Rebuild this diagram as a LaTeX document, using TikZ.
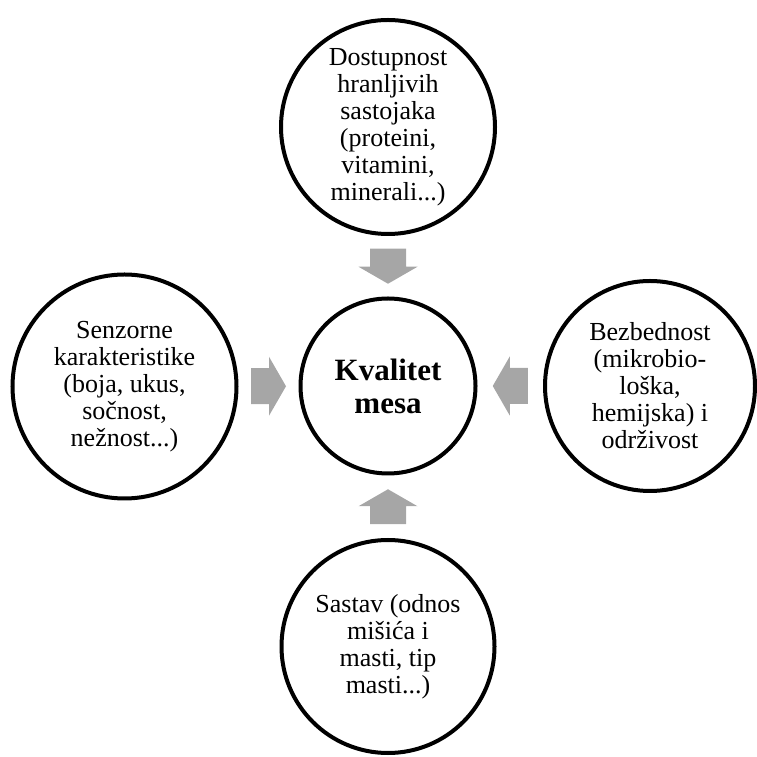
\documentclass[tikz,border=0pt]{standalone}
\usepackage{fontspec}
\setmainfont{Liberation Serif}
\usetikzlibrary{calc}
\definecolor{arrowgray}{HTML}{A6A6A6}
\tikzset{
  bubble/.style={circle, draw=black, line width=4pt, inner sep=0pt, align=center,
    font=\fontsize{26}{27}\selectfont},
  centerbubble/.style={bubble, font=\bfseries\fontsize{31}{33}\selectfont},
  blockarrow/.pic={
    \fill[arrowgray] (-17.5,-18) -- (0.5,-18) -- (0.5,-29.5) -- (17.5,0)
      -- (0.5,29.5) -- (0.5,18) -- (-17.5,18) -- cycle;
  }
}
\begin{document}
\begin{tikzpicture}[x=1pt,y=1pt]
\useasboundingbox (0,0) rectangle (757,757);
\node[centerbubble, minimum size=175pt] (center) at (388,371) {Kvalitet\\mesa};
\node[bubble, minimum size=214pt] (top) at (388,630)
  {Dostupnost\\hranljivih\\sastojaka\\(proteini,\\vitamini,\\minerali...)};
\node[bubble, minimum size=224pt] (left) at (124.5,370.5)
  {Senzorne\\karakteristike\\(boja, ukus,\\sočnost,\\nežnost...)};
\node[bubble, minimum size=210pt] (right) at (650,371)
  {Bezbednost\\(mikrobio-\\loška,\\hemijska) i\\održivost};
\node[bubble, minimum size=213pt] (bottom) at (388,110.5)
  {Sastav (odnos\\mišića i\\masti, tip\\masti...)};
\pic[rotate=-90] at ($(top.south)!0.5!(center.north)$) {blockarrow};
\pic[rotate=0] at ($(left.east)!0.5!(center.west)$) {blockarrow};
\pic[rotate=180] at ($(right.west)!0.5!(center.east)$) {blockarrow};
\pic[rotate=90] at ($(bottom.north)!0.5!(center.south)$) {blockarrow};
\end{tikzpicture}
\end{document}
